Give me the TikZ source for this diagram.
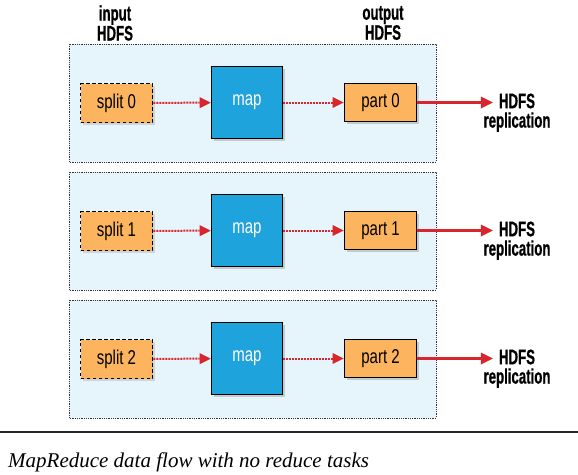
\documentclass[tikz,border=0pt]{standalone}
\usepackage{fontspec}
\setmainfont{Liberation Serif}
\newfontfamily\condsans{Liberation Sans}[FakeStretch=0.75]
\newfontfamily\condbold{Liberation Sans Bold}[FakeStretch=0.63,FakeBold=0.6]
\usetikzlibrary{arrows.meta,shadows}
\definecolor{paneblue}{HTML}{E6F4FB}
\definecolor{mapblue}{HTML}{1FA3DD}
\definecolor{splitorange}{HTML}{FDB45F}
\definecolor{flowred}{HTML}{D7262C}
\tikzset{
  pane/.style={draw=black!80, densely dotted, line width=.8pt, fill=paneblue},
  splitbox/.style={draw=black, dashed, dash pattern=on 3.5pt off 2.5pt, line width=1.6pt, fill=splitorange, minimum width=72pt, minimum height=39pt, inner sep=0pt, font=\condsans\fontsize{20}{22}\selectfont, drop shadow={shadow xshift=2pt, shadow yshift=-2pt, opacity=.25}},
  mapbox/.style={draw=black, line width=1.6pt, fill=mapblue, text=white, minimum width=71pt, minimum height=72pt, inner sep=0pt, font=\condsans\fontsize{20}{22}\selectfont, drop shadow={shadow xshift=2.5pt, shadow yshift=-2.5pt, opacity=.35}},
  partbox/.style={draw=black, line width=1.6pt, fill=splitorange, minimum width=72pt, minimum height=38pt, inner sep=0pt, font=\condsans\fontsize{20}{22}\selectfont, drop shadow={shadow xshift=2.5pt, shadow yshift=-2.5pt, opacity=.35}},
  headlbl/.style={align=center, font=\condbold\fontsize{21}{20}\selectfont, inner sep=0pt},
  outlbl/.style={font=\condbold\fontsize{21}{20}\selectfont, inner xsep=6pt, inner ysep=0pt},
  replbl/.style={font=\condbold\fontsize{21}{20}\selectfont, inner sep=0pt, label distance=3.5pt},
  localflow/.style={flowred, densely dotted, line width=2pt, -{Triangle[length=11pt,width=11pt,line width=0pt]}},
  replflow/.style={flowred, line width=2.4pt, -{Triangle[length=12pt,width=12pt,line width=0pt]}}
}
\begin{document}
\begin{tikzpicture}[x=1pt,y=-1pt]
  \useasboundingbox (0,0) rectangle (578,474);
  % panes
  \filldraw[pane] (69,44) rectangle (436,162);
  \filldraw[pane] (69,172) rectangle (436,290);
  \filldraw[pane] (69,300) rectangle (436,418);
  % headings
  \node[headlbl] (inhdfs) at (115,23) {input\\HDFS};
  \node[headlbl] (outhdfs) at (383,23) {output\\HDFS};
  % first row
  \node[splitbox] (split0) at (116.5,103) {split 0};
  \node[mapbox] (map0) at (247,102.5) {map};
  \node[partbox] (part0) at (380.5,102.5) {part 0};
  \node[outlbl, label={[replbl]below:replication}] (rep0) at (517,101) {HDFS};
  \draw[localflow] (split0) -- (map0);
  \draw[localflow] (map0) -- (part0);
  \draw[replflow] (part0) -- (rep0.west |- part0);
  % second row
  \node[splitbox] (split1) at (116.5,231) {split 1};
  \node[mapbox] (map1) at (247,230.5) {map};
  \node[partbox] (part1) at (380.5,230.5) {part 1};
  \node[outlbl, label={[replbl]below:replication}] (rep1) at (517,229) {HDFS};
  \draw[localflow] (split1) -- (map1);
  \draw[localflow] (map1) -- (part1);
  \draw[replflow] (part1) -- (rep1.west |- part1);
  % third row
  \node[splitbox] (split2) at (116.5,359) {split 2};
  \node[mapbox] (map2) at (247,358.5) {map};
  \node[partbox] (part2) at (380.5,358.5) {part 2};
  \node[outlbl, label={[replbl]below:replication}] (rep2) at (517,357) {HDFS};
  \draw[localflow] (split2) -- (map2);
  \draw[localflow] (map2) -- (part2);
  \draw[replflow] (part2) -- (rep2.west |- part2);
  % caption
  \coordinate (ruleL) at (0,432);
  \coordinate (ruleR) at (578,432);
  \draw[black!85, line width=1.2pt] (ruleL) -- (ruleR);
  \node[anchor=base west, inner sep=0pt, font=\itshape\fontsize{21}{24}\selectfont] (caption) at (8,467) {MapReduce data flow with no reduce tasks};
\end{tikzpicture}
\end{document}
